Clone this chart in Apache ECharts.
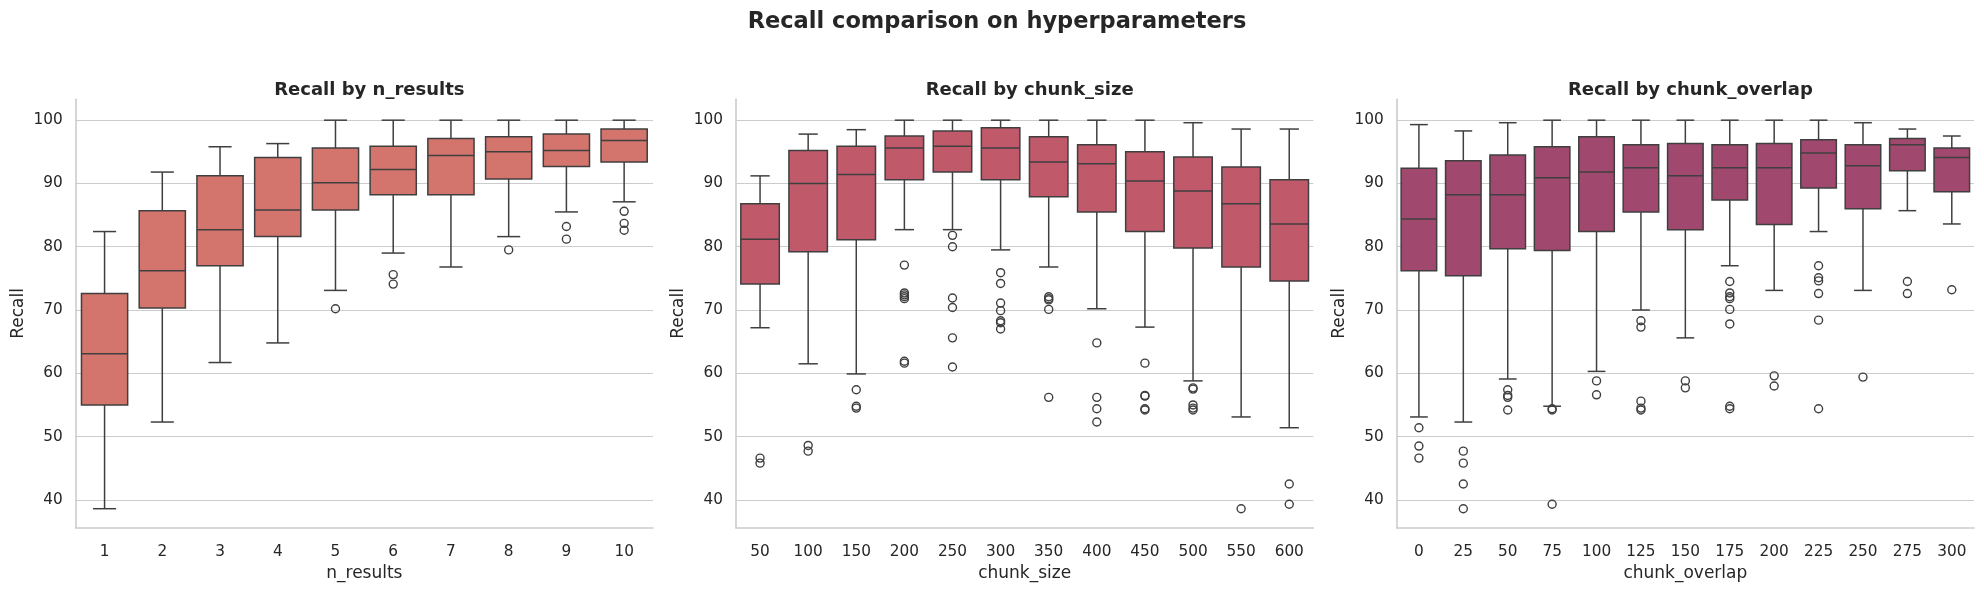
<!DOCTYPE html>
<html>
<head>
<meta charset="utf-8">
<script src="https://cdn.jsdelivr.net/npm/echarts@6/dist/echarts.min.js"></script>
<style>
html,body{margin:0;padding:0;background:#fff;}
#chart{width:1984px;height:590px;}
</style>
</head>
<body>
<div id="chart"></div>
<script>
// ---------- Panel 1: n_results ----------
const nResultsCats = ['1','2','3','4','5','6','7','8','9','10'];
const nResultsLow  = [38.6, 52.3, 61.7, 64.8, 73.1, 79.0, 76.8, 81.6, 85.5, 87.1];
const nResultsQ1   = [55.0, 70.3, 77.0, 81.6, 85.8, 88.2, 88.2, 90.7, 92.7, 93.4];
const nResultsMed  = [63.1, 76.2, 82.7, 85.8, 90.1, 92.2, 94.4, 95.0, 95.2, 96.8];
const nResultsQ3   = [72.6, 85.7, 91.2, 94.1, 95.6, 95.9, 97.1, 97.4, 97.8, 98.6];
const nResultsHigh = [82.4, 91.8, 95.8, 96.3, 100, 100, 100, 100, 100, 100];
const nResultsOutliers = [
  [4, 70.2], [5, 75.6], [5, 74.1], [7, 79.5], [8, 83.2], [8, 81.2],
  [9, 85.6], [9, 83.7], [9, 82.6]
];

// ---------- Panel 2: chunk_size ----------
const chunkSizeCats = ['50','100','150','200','250','300','350','400','450','500','550','600'];
const chunkSizeLow  = [67.2, 61.5, 59.9, 82.7, 82.7, 79.5, 76.8, 70.2, 67.3, 58.8, 53.1, 51.4];
const chunkSizeQ1   = [74.1, 79.2, 81.1, 90.6, 91.8, 90.6, 87.9, 85.5, 82.4, 79.8, 76.8, 74.6];
const chunkSizeMed  = [81.2, 90.0, 91.4, 95.6, 95.9, 95.6, 93.4, 93.1, 90.4, 88.8, 86.8, 83.6];
const chunkSizeQ3   = [86.8, 95.2, 95.9, 97.5, 98.3, 98.8, 97.4, 96.1, 95.0, 94.2, 92.6, 90.6];
const chunkSizeHigh = [91.2, 97.8, 98.5, 100, 100, 100, 100, 100, 100, 99.6, 98.6, 98.6];
const chunkSizeOutliers = [
  [0, 46.6], [0, 45.8],
  [1, 48.6], [1, 47.7],
  [2, 57.4], [2, 54.8], [2, 54.5],
  [3, 77.1], [3, 72.7], [3, 72.4], [3, 72.1], [3, 71.8], [3, 61.9], [3, 61.6],
  [4, 81.8], [4, 80.0], [4, 71.9], [4, 70.4], [4, 65.6], [4, 61.0],
  [5, 75.9], [5, 74.2], [5, 71.1], [5, 69.9], [5, 68.3], [5, 68.0], [5, 67.0],
  [6, 72.1], [6, 71.8], [6, 71.6], [6, 70.1], [6, 56.2],
  [7, 64.8], [7, 56.2], [7, 54.4], [7, 52.3],
  [8, 61.6], [8, 56.5], [8, 56.4], [8, 54.4], [8, 54.2],
  [9, 57.7], [9, 57.5], [9, 55.0], [9, 54.5], [9, 54.2],
  [10, 38.6],
  [11, 42.5], [11, 39.3]
];

// ---------- Panel 3: chunk_overlap ----------
const chunkOverlapCats = ['0','25','50','75','100','125','150','175','200','225','250','275','300'];
const chunkOverlapLow  = [53.1, 52.3, 59.1, 54.8, 60.3, 70.0, 65.6, 77.0, 73.1, 82.4, 73.1, 85.7, 83.6];
const chunkOverlapQ1   = [76.2, 75.4, 79.7, 79.4, 82.4, 85.5, 82.7, 87.4, 83.5, 89.3, 86.0, 92.0, 88.7];
const chunkOverlapMed  = [84.4, 88.2, 88.2, 90.9, 91.8, 92.5, 91.2, 92.5, 92.5, 94.8, 92.8, 96.1, 94.1];
const chunkOverlapQ3   = [92.4, 93.6, 94.5, 95.8, 97.4, 96.1, 96.3, 96.1, 96.3, 96.9, 96.1, 97.1, 95.6];
const chunkOverlapHigh = [99.3, 98.3, 99.6, 100, 100, 100, 100, 100, 100, 100, 99.6, 98.6, 97.5];
const chunkOverlapOutliers = [
  [0, 51.4], [0, 48.5], [0, 46.6],
  [1, 47.7], [1, 45.8], [1, 42.5], [1, 38.6],
  [2, 57.4], [2, 56.5], [2, 56.2], [2, 54.2],
  [3, 54.4], [3, 54.2], [3, 39.3],
  [4, 58.8], [4, 56.6],
  [5, 68.3], [5, 67.3], [5, 55.6], [5, 54.5], [5, 54.2],
  [6, 58.8], [6, 57.7],
  [7, 74.5], [7, 72.7], [7, 72.1], [7, 71.8], [7, 70.1], [7, 67.8], [7, 54.8], [7, 54.4],
  [8, 59.6], [8, 58.0],
  [9, 77.0], [9, 75.1], [9, 74.6], [9, 72.6], [9, 68.4], [9, 54.4],
  [10, 59.4],
  [11, 74.5], [11, 72.6],
  [12, 73.2]
];

const yTickLabels = ['40','50','60','70','80','90','100'];

const FONT = 'DejaVu Sans';
const TEXT = '#262626';
const EDGE = '#3f3f3f';
const GRIDC = '#cccccc';
const Y_MIN = 35.6, Y_MAX = 103.3;

const panels = [
  {title:'Recall by n_results', xname:'n_results', cats:nResultsCats, low:nResultsLow, q1:nResultsQ1, med:nResultsMed, q3:nResultsQ3, high:nResultsHigh, out:nResultsOutliers, color:'#d3756c', left:75.7},
  {title:'Recall by chunk_size', xname:'chunk_size', cats:chunkSizeCats, low:chunkSizeLow, q1:chunkSizeQ1, med:chunkSizeMed, q3:chunkSizeQ3, high:chunkSizeHigh, out:chunkSizeOutliers, color:'#c05a6b', left:736},
  {title:'Recall by chunk_overlap', xname:'chunk_overlap', cats:chunkOverlapCats, low:chunkOverlapLow, q1:chunkOverlapQ1, med:chunkOverlapMed, q3:chunkOverlapQ3, high:chunkOverlapHigh, out:chunkOverlapOutliers, color:'#a1486e', left:1396.7}
];
const GRID_W = 577.3, GRID_TOP = 99.3, GRID_H = 428.4;

const grids = [], xAxes = [], yAxes = [], series = [], titles = [];
titles.push({text:'Recall comparison on hyperparameters', left:992, top:6, textAlign:'center',
  textStyle:{fontFamily:FONT, fontSize:22.5, fontWeight:'bold', color:TEXT}});

panels.forEach((p, g) => {
  grids.push({left:p.left, top:GRID_TOP, width:GRID_W, height:GRID_H, containLabel:false});
  titles.push({text:p.title, left:p.left + GRID_W/2, top:76, textAlign:'center',
    textStyle:{fontFamily:FONT, fontSize:18, fontWeight:'bold', color:TEXT}});
  xAxes.push({type:'category', gridIndex:g, data:p.cats, boundaryGap:true,
    name:p.xname, nameLocation:'middle', nameGap:35,
    nameTextStyle:{fontFamily:FONT, fontSize:17, color:TEXT},
    axisLine:{show:true, lineStyle:{color:GRIDC, width:1.6}},
    axisTick:{show:false},
    axisLabel:{fontFamily:FONT, fontSize:15.3, color:TEXT, margin:17},
    splitLine:{show:false}});
  yAxes.push({type:'value', gridIndex:g, min:Y_MIN, max:Y_MAX, splitNumber:7,
    name:'Recall', nameLocation:'middle', nameGap:49, nameRotate:90,
    nameTextStyle:{fontFamily:FONT, fontSize:17, color:TEXT},
    axisLine:{show:true, lineStyle:{color:GRIDC, width:1.6}},
    axisTick:{show:false},
    axisLabel:{fontFamily:FONT, fontSize:15.3, color:TEXT, margin:13, showMinLabel:false, showMaxLabel:false,
      formatter: v => yTickLabels.includes(String(v)) ? String(v) : ''},
    splitLine:{show:true, showMinLine:false, showMaxLine:false, lineStyle:{color:GRIDC, width:1.2}}});

  series.push({
    type:'custom', xAxisIndex:g, yAxisIndex:g, z:2,
    data:p.low.map((v,i)=>[i, v, p.q1[i], p.med[i], p.q3[i], p.high[i]]),
    encode:{x:0, y:[1,2,3,4,5]},
    renderItem:(params, api) => {
      const x = api.value(0);
      const pl = api.coord([x, api.value(1)]);
      const p1 = api.coord([x, api.value(2)]);
      const pm = api.coord([x, api.value(3)]);
      const p3 = api.coord([x, api.value(4)]);
      const ph = api.coord([x, api.value(5)]);
      const bw = api.size([1,0])[0]*0.8;
      const cx = pl[0];
      const cw = bw/2;
      const ls = {stroke:EDGE, lineWidth:1.5};
      return {type:'group', children:[
        {type:'line', shape:{x1:cx, y1:pl[1], x2:cx, y2:p1[1]}, style:ls},
        {type:'line', shape:{x1:cx, y1:p3[1], x2:cx, y2:ph[1]}, style:ls},
        {type:'line', shape:{x1:cx-cw/2, y1:pl[1], x2:cx+cw/2, y2:pl[1]}, style:ls},
        {type:'line', shape:{x1:cx-cw/2, y1:ph[1], x2:cx+cw/2, y2:ph[1]}, style:ls},
        {type:'rect', shape:{x:cx-bw/2, y:p3[1], width:bw, height:p1[1]-p3[1]}, style:{fill:p.color, stroke:EDGE, lineWidth:1.5}},
        {type:'line', shape:{x1:cx-bw/2, y1:pm[1], x2:cx+bw/2, y2:pm[1]}, style:ls}
      ]};
    }
  });
  series.push({
    type:'scatter', xAxisIndex:g, yAxisIndex:g, z:3,
    data:p.out, symbol:'circle', symbolSize:8,
    itemStyle:{color:'rgba(255,255,255,0)', borderColor:EDGE, borderWidth:1.4, opacity:1},
    silent:true
  });
});

const chart = echarts.init(document.getElementById('chart'), null, {renderer:'canvas'});
chart.setOption({
  backgroundColor:'#ffffff',
  animation:false,
  textStyle:{fontFamily:FONT},
  title:titles, grid:grids, xAxis:xAxes, yAxis:yAxes, series:series
});
</script>
</body>
</html>
